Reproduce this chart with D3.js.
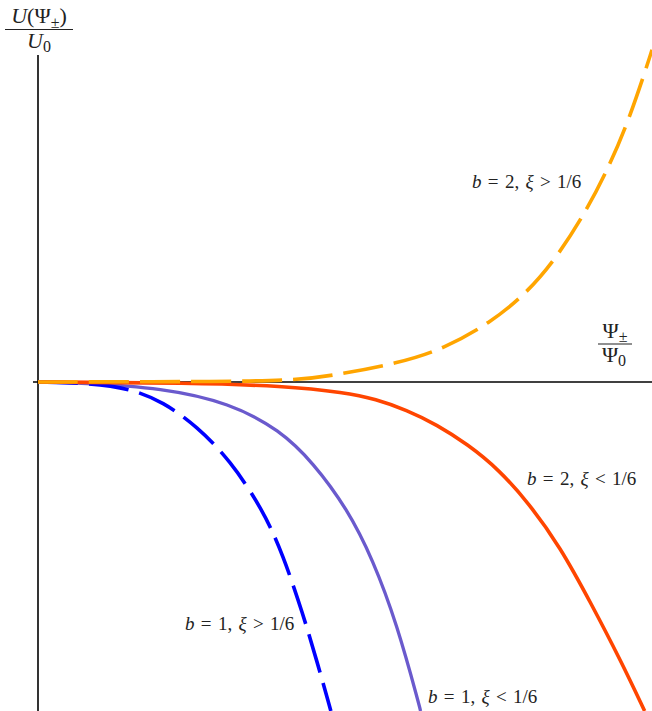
<!DOCTYPE html>
<html>
<head>
<meta charset="utf-8">
<script src="https://cdn.jsdelivr.net/npm/d3@7"></script>
<style>
  body { margin: 0; background: #fff; }
  text { font-family: "Liberation Serif", "DejaVu Serif", serif; fill: #222; }
</style>
</head>
<body>
<div id="chart"></div>
<script>
// values (x = Psi/Psi0, y = U/U0)
var b1GtX = [0, 0.169, 0.300, 0.407, 0.518, 0.625, 0.733, 0.798, 0.863, 0.909, 0.951, 0.954];
var b1GtY = [0, -0.003, -0.020, -0.060, -0.135, -0.237, -0.389, -0.525, -0.705, -0.850, -0.990, -1];

var b1LtX = [0, 0.137, 0.407, 0.625, 0.788, 0.896, 1.007, 1.091, 1.169, 1.244, 1.246];
var b1LtY = [0, -0.003, -0.018, -0.064, -0.146, -0.245, -0.385, -0.540, -0.735, -0.990, -1];

var b2LtX = [0, 0.5, 0.8, 1.0, 1.1, 1.2, 1.3, 1.4, 1.5, 1.6, 1.7, 1.8, 1.9, 1.976];
var b2LtY = [0, -0.003, -0.012, -0.032, -0.052, -0.085, -0.130, -0.190, -0.265, -0.370, -0.500, -0.670, -0.850, -1];

var b2GtX = [0, 0.625, 0.844, 0.951, 1.179, 1.319, 1.472, 1.593, 1.691, 1.788, 1.863, 1.928, 1.993, 2.0];
var b2GtY = [0, 0.001, 0.006, 0.018, 0.058, 0.100, 0.179, 0.271, 0.380, 0.523, 0.660, 0.805, 0.988, 1.01];

var svgWidth = 652;
var svgHeight = 711;

var svg = d3.select("#chart")
  .append("svg")
  .attr("width", svgWidth)
  .attr("height", svgHeight);

var x = d3.scaleLinear().domain([0, 2]).range([38, 652]);
var y = d3.scaleLinear().domain([-1, 1]).range([711, 53]);

// axes
svg.append("line")
  .attr("x1", x(0) - 5).attr("x2", x(2))
  .attr("y1", y(0)).attr("y2", y(0))
  .attr("stroke", "#000").attr("stroke-width", 1.6);

svg.append("line")
  .attr("x1", x(0)).attr("x2", x(0))
  .attr("y1", 55).attr("y2", y(-1))
  .attr("stroke", "#000").attr("stroke-width", 1.6);

svg.append("clipPath").attr("id", "clip")
  .append("rect").attr("x", 0).attr("y", 0).attr("width", svgWidth).attr("height", svgHeight);

var line = d3.line()
  .x(d => x(d[0]))
  .y(d => y(d[1]))
  .curve(d3.curveBasis);

var series = [
  { xs: b1LtX, ys: b1LtY, color: "#6a5acd", width: 3.3, dash: null },
  { xs: b1GtX, ys: b1GtY, color: "#0000ff", width: 3.6, dash: "40,11" },
  { xs: b2LtX, ys: b2LtY, color: "#ff4500", width: 3.6, dash: null },
  { xs: b2GtX, ys: b2GtY, color: "#ffa500", width: 3.6, dash: "40,11" }
];

series.forEach(function(s) {
  var pts = s.xs.map((v, i) => [v, s.ys[i]]);
  svg.append("path")
    .datum(pts)
    .attr("clip-path", "url(#clip)")
    .attr("fill", "none")
    .attr("stroke", s.color)
    .attr("stroke-width", s.width)
    .attr("stroke-dasharray", s.dash)
    .attr("d", line);
});

// curve labels
function mathLabel(px, py, bVal, rel) {
  var t = svg.append("text")
    .attr("x", px).attr("y", py)
    .style("font-size", "19px");
  t.append("tspan").style("font-style", "italic").text("b");
  t.append("tspan").text("\u2004=\u2004" + bVal + ",\u2004");
  t.append("tspan").style("font-style", "italic").text("ξ");
  t.append("tspan").text("\u2004" + rel + "\u2004" + "1/6");
}
mathLabel(472, 188, 2, ">");
mathLabel(527, 485, 2, "<");
mathLabel(185, 630, 1, ">");
mathLabel(428, 703, 1, "<");

// y label: U(Psi+-)/U0
var yl = svg.append("text").attr("x", 39).attr("y", 23)
  .attr("text-anchor", "middle").style("font-size", "22px");
yl.append("tspan").style("font-style", "italic").text("U");
yl.append("tspan").text("(Ψ");
yl.append("tspan").attr("dy", 5).style("font-size", "16px").text("±");
yl.append("tspan").attr("dy", -5).text(")");
svg.append("line").attr("x1", 5).attr("x2", 73).attr("y1", 29.5).attr("y2", 29.5)
  .attr("stroke", "#222").attr("stroke-width", 1.2);
var yd = svg.append("text").attr("x", 39).attr("y", 48)
  .attr("text-anchor", "middle").style("font-size", "22px");
yd.append("tspan").style("font-style", "italic").text("U");
yd.append("tspan").attr("dy", 4).style("font-size", "16px").text("0");

// x label: Psi+-/Psi0
var xn = svg.append("text").attr("x", 615).attr("y", 338)
  .attr("text-anchor", "middle").style("font-size", "22px");
xn.append("tspan").text("Ψ");
xn.append("tspan").attr("dy", 4).style("font-size", "16px").text("±");
svg.append("line").attr("x1", 598).attr("x2", 632).attr("y1", 344).attr("y2", 344)
  .attr("stroke", "#222").attr("stroke-width", 1.2);
var xd = svg.append("text").attr("x", 614).attr("y", 362)
  .attr("text-anchor", "middle").style("font-size", "22px");
xd.append("tspan").text("Ψ");
xd.append("tspan").attr("dy", 4).style("font-size", "16px").text("0");
</script>
</body>
</html>
